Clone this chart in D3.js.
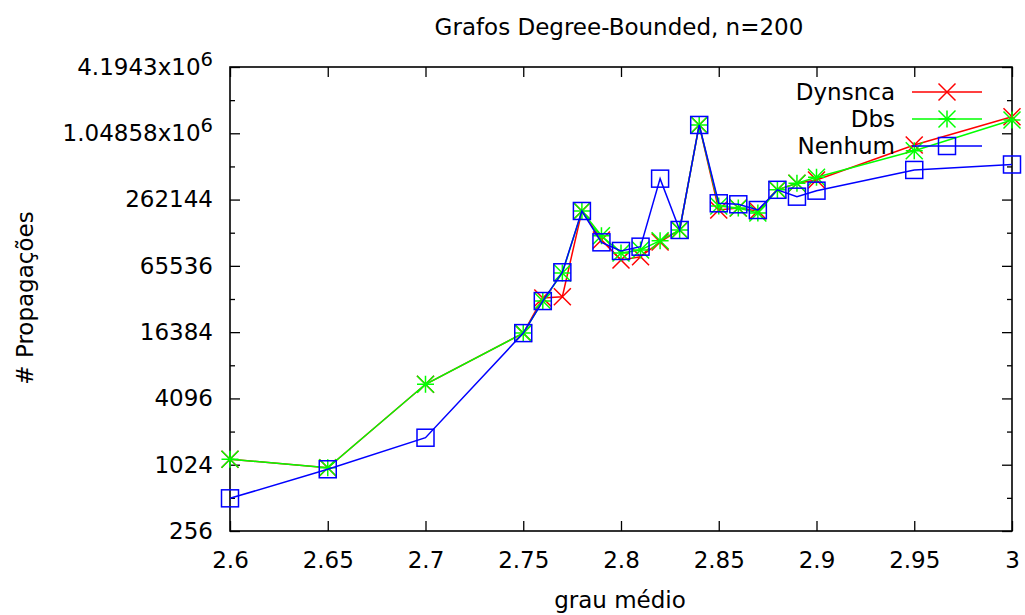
<!DOCTYPE html>
<html>
<head>
<meta charset="utf-8">
<script src="https://cdn.jsdelivr.net/npm/d3@7"></script>
<style>
  html, body { margin: 0; padding: 0; background: #fff; }
  svg { display: block; }
  text { font-family: "DejaVu Sans", sans-serif; fill: #000; }
</style>
</head>
<body>
<svg id="chart" width="1025" height="615"></svg>
<script>
// Average degree (x) of the degree-bounded graphs
const grauMedio = [2.6, 2.65, 2.7, 2.75, 2.76, 2.77, 2.78, 2.79, 2.8, 2.81, 2.82,
                   2.83, 2.84, 2.85, 2.86, 2.87, 2.88, 2.89, 2.9, 2.95, 3.0];

// Number of propagations per algorithm
const dynsnca = [1147, 962, 5506, 16060, 33500, 34400, 206500, 112600, 74100, 79400, 108000,
                 138800, 1248000, 210800, 219800, 206500, 321500, 368500, 394800, 820000, 1483000];
const dbs     = [1147, 962, 5506, 16060, 31400, 56500, 206500, 123100, 85800, 91400, 110900,
                 138800, 1248000, 229000, 219800, 197900, 321500, 368500, 417600, 728300, 1384000];
const nenhum  = [507, 931, 1801, 16060, 31400, 57300, 206500, 107200, 89500, 97900, 406000,
                 138800, 1248000, 242500, 237500, 210800, 321500, 278600, 315800, 487000, 546000];

const seriesNames = ["Dynsnca", "Dbs", "Nenhum"];
const seriesColors = ["#ff0000", "#00ff00", "#0000ff"];
const seriesMarkers = ["cross", "star", "square"];

// Axis ticks
const xTicks = [2.6, 2.65, 2.7, 2.75, 2.8, 2.85, 2.9, 2.95, 3.0];
const xTickLabels = ["2.6", "2.65", "2.7", "2.75", "2.8", "2.85", "2.9", "2.95", "3"];
const yTicks = [256, 1024, 4096, 16384, 65536, 262144, 1048576, 4194304];
const yTickLabels = ["256", "1024", "4096", "16384", "65536", "262144", "1.04858x10^6", "4.1943x10^6"];
const yMinorTicks = [512, 2048, 8192, 32768, 131072, 524288, 2097152];

const svg = d3.select("#chart");
const plotLeft = 230, plotRight = 1012, plotTop = 67, plotBottom = 531;
const FS = 23;

const x = d3.scaleLinear().domain([2.6, 3.0]).range([plotLeft, plotRight]);
const y = d3.scaleLog().base(2).domain([256, 4194304]).range([plotBottom, plotTop]);

// Title and axis labels
svg.append("text").attr("x", 619).attr("y", 35).attr("text-anchor", "middle")
  .attr("font-size", FS).text("Grafos Degree-Bounded, n=200");
svg.append("text").attr("x", 620).attr("y", 608).attr("text-anchor", "middle")
  .attr("font-size", FS).text("grau médio");
svg.append("text").attr("transform", "translate(33,298) rotate(-90)")
  .attr("text-anchor", "middle").attr("font-size", FS).text("# Propagações");

// Axes: ticks point inward, mirrored on top/right
function styleAxis(g) {
  g.select(".domain").remove();
  g.selectAll(".tick line").attr("stroke", "#000").attr("stroke-width", 1.3);
  g.selectAll("text").attr("font-size", FS).attr("font-family", "DejaVu Sans, sans-serif").attr("fill", "#000");
}

const yLab = d3.scaleOrdinal().domain(yTicks).range(yTickLabels);
const gy = svg.append("g").attr("transform", `translate(${plotLeft},0)`)
  .call(d3.axisLeft(y).tickValues(yTicks).tickSizeInner(-10).tickSizeOuter(0)
    .tickPadding(17).tickFormat(d => yLab(d)))
  .call(styleAxis);
// superscript exponent on the large labels
gy.selectAll(".tick text").each(function() {
  const t = d3.select(this);
  const s = t.text();
  if (s.includes("^")) {
    const [base, exp] = s.split("^");
    t.text(null);
    t.append("tspan").text(base);
    t.append("tspan").attr("dy", "-0.45em").attr("font-size", FS * 0.85).text(exp);
  }
});
svg.append("g").attr("transform", `translate(${plotLeft},0)`)
  .call(d3.axisLeft(y).tickValues(yMinorTicks).tickSizeInner(-5).tickSizeOuter(0).tickFormat(""))
  .call(styleAxis);
svg.append("g").attr("transform", `translate(${plotRight},0)`)
  .call(d3.axisRight(y).tickValues(yTicks).tickSizeInner(-10).tickSizeOuter(0).tickFormat(""))
  .call(styleAxis);
svg.append("g").attr("transform", `translate(${plotRight},0)`)
  .call(d3.axisRight(y).tickValues(yMinorTicks).tickSizeInner(-5).tickSizeOuter(0).tickFormat(""))
  .call(styleAxis);

const xLab = d3.scaleOrdinal().domain(xTicks).range(xTickLabels);
svg.append("g").attr("transform", `translate(0,${plotBottom})`)
  .call(d3.axisBottom(x).tickValues(xTicks).tickSizeInner(-10).tickSizeOuter(0)
    .tickPadding(21).tickFormat(d => xLab(d)))
  .call(styleAxis);
svg.append("g").attr("transform", `translate(0,${plotTop})`)
  .call(d3.axisTop(x).tickValues(xTicks).tickSizeInner(-10).tickSizeOuter(0).tickFormat(""))
  .call(styleAxis);

// Plot border
svg.append("rect").attr("x", plotLeft).attr("y", plotTop)
  .attr("width", plotRight - plotLeft).attr("height", plotBottom - plotTop)
  .attr("fill", "none").attr("stroke", "#000").attr("stroke-width", 1.6);

// Marker shapes
const R = 8.5;
function drawMarker(g, kind, cx, cy, color) {
  if (kind === "cross" || kind === "star") {
    g.append("path").attr("d", `M${cx - R},${cy - R}L${cx + R},${cy + R}M${cx - R},${cy + R}L${cx + R},${cy - R}`)
      .attr("stroke", color).attr("stroke-width", 1.5).attr("fill", "none");
  }
  if (kind === "star") {
    g.append("path").attr("d", `M${cx - R},${cy}L${cx + R},${cy}M${cx},${cy - R}L${cx},${cy + R}`)
      .attr("stroke", color).attr("stroke-width", 1.5).attr("fill", "none");
  }
  if (kind === "square") {
    g.append("rect").attr("x", cx - R).attr("y", cy - R).attr("width", 2 * R).attr("height", 2 * R)
      .attr("stroke", color).attr("stroke-width", 1.5).attr("fill", "none");
  }
}

const allSeries = [dynsnca, dbs, nenhum];
const line = d3.line().x((d, i) => x(grauMedio[i])).y(d => y(d));

allSeries.forEach((vals, si) => {
  const g = svg.append("g");
  g.append("path").datum(vals).attr("d", line)
    .attr("fill", "none").attr("stroke", seriesColors[si]).attr("stroke-width", 1.5);
  vals.forEach((v, i) => drawMarker(g, seriesMarkers[si], x(grauMedio[i]), y(v), seriesColors[si]));
});

// Legend
const legendY = [92, 119, 146];
seriesNames.forEach((name, si) => {
  const g = svg.append("g");
  g.append("text").attr("x", 895).attr("y", legendY[si]).attr("dy", "0.36em")
    .attr("text-anchor", "end").attr("font-size", FS).text(name);
  g.append("line").attr("x1", 912).attr("x2", 982).attr("y1", legendY[si]).attr("y2", legendY[si])
    .attr("stroke", seriesColors[si]).attr("stroke-width", 1.5);
  drawMarker(g, seriesMarkers[si], 947, legendY[si], seriesColors[si]);
});
</script>
</body>
</html>
